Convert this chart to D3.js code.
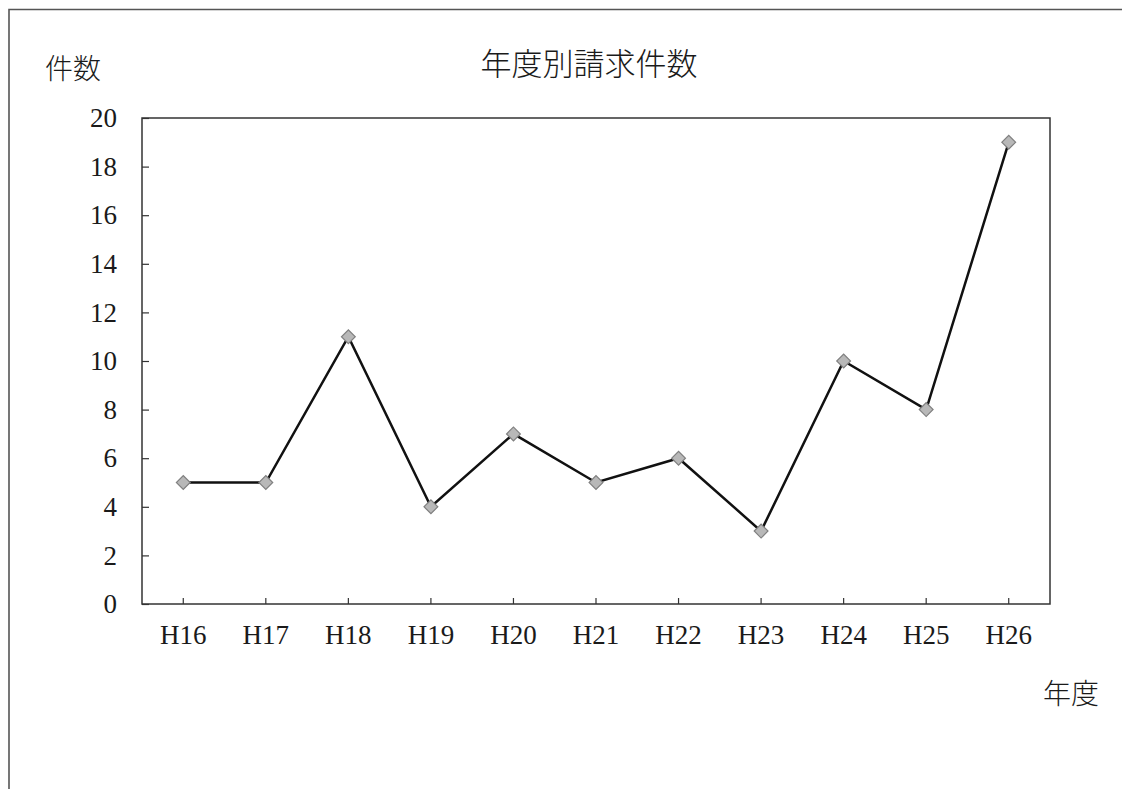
<!DOCTYPE html>
<html>
<head>
<meta charset="utf-8">
<script src="https://cdn.jsdelivr.net/npm/d3@7"></script>
<style>
  body { margin: 0; background: #fff; }
  text { font-family: "Liberation Serif", "Noto Sans CJK JP", serif; fill: #1a1a1a; }
  .jp { font-weight: 300; }
</style>
</head>
<body>
<script>
var nendo = ["H16", "H17", "H18", "H19", "H20", "H21", "H22", "H23", "H24", "H25", "H26"];
var kensu = [5, 5, 11, 4, 7, 5, 6, 3, 10, 8, 19];
var yTicks = [0, 2, 4, 6, 8, 10, 12, 14, 16, 18, 20];

var W = 1122, H = 789;
var pL = 142, pT = 118, pR = 1050, pB = 604;

var svg = d3.select("body").append("svg")
    .attr("width", W)
    .attr("height", H);

// outer frame (only top + left visible in the scan)
svg.append("path")
    .attr("d", "M9,789 L9,9.5 L1122,9.5")
    .attr("fill", "none")
    .attr("stroke", "#555")
    .attr("stroke-width", 1.6);

var x = d3.scaleBand().domain(nendo).range([pL, pR]).padding(0);
var y = d3.scaleLinear().domain([0, 20]).range([pB, pT]);

// plot area
svg.append("rect")
    .attr("x", pL)
    .attr("y", pT)
    .attr("width", pR - pL)
    .attr("height", pB - pT)
    .attr("fill", "none")
    .attr("stroke", "#333")
    .attr("stroke-width", 1.5);

var yAxis = svg.append("g")
    .attr("transform", "translate(" + pL + ",0)")
    .call(d3.axisLeft(y).tickValues(yTicks).tickSize(-7).tickPadding(25));
yAxis.select(".domain").remove();
yAxis.attr("font-family", null).attr("font-size", 27);
yAxis.selectAll("line").attr("stroke", "#333").attr("stroke-width", 1.2);

var xAxis = svg.append("g")
    .attr("transform", "translate(0," + pB + ")")
    .call(d3.axisBottom(x).tickSize(-6).tickPadding(21));
xAxis.select(".domain").remove();
xAxis.attr("font-family", null).attr("font-size", 27);
xAxis.selectAll("line").attr("stroke", "#333").attr("stroke-width", 1.2);

var line = d3.line()
    .x(function (d, i) { return x(nendo[i]) + x.bandwidth() / 2; })
    .y(function (d) { return y(d); });

svg.append("path")
    .datum(kensu)
    .attr("d", line)
    .attr("fill", "none")
    .attr("stroke", "#111")
    .attr("stroke-width", 2.5);

svg.selectAll(".pt")
    .data(kensu)
    .enter()
    .append("path")
    .attr("class", "pt")
    .attr("d", d3.symbol().type(d3.symbolSquare).size(95))
    .attr("transform", function (d, i) {
        return "translate(" + (x(nendo[i]) + x.bandwidth() / 2) + "," + y(d) + ") rotate(45)";
    })
    .attr("fill", "#b8b8b8")
    .attr("stroke", "#808080")
    .attr("stroke-width", 1.2);

// titles
svg.append("text")
    .attr("class", "jp")
    .attr("x", 589)
    .attr("y", 64)
    .attr("dy", "0.35em")
    .attr("text-anchor", "middle")
    .attr("font-size", 31)
    .text("年度別請求件数");

svg.append("text")
    .attr("class", "jp")
    .attr("x", 45)
    .attr("y", 69)
    .attr("dy", "0.35em")
    .attr("font-size", 28)
    .text("件数");

svg.append("text")
    .attr("class", "jp")
    .attr("x", 1043)
    .attr("y", 694)
    .attr("dy", "0.35em")
    .attr("font-size", 28)
    .text("年度");
</script>
</body>
</html>
